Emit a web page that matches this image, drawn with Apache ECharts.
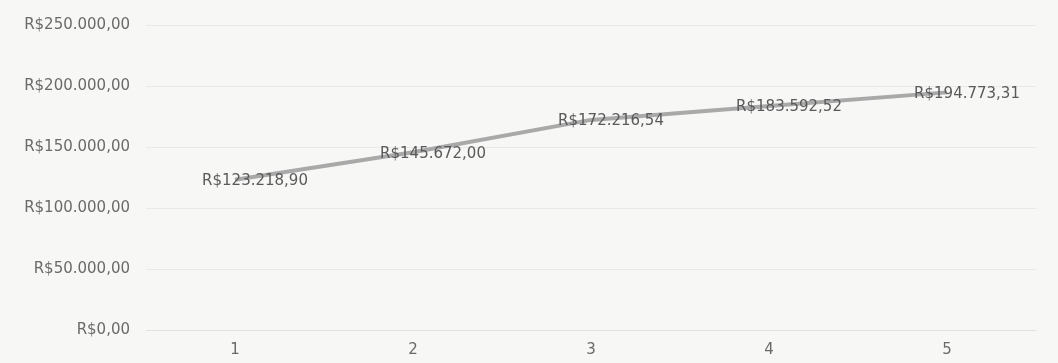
<!DOCTYPE html>
<html>
<head>
<meta charset="utf-8">
<script src="https://cdn.jsdelivr.net/npm/echarts@6/dist/echarts.min.js"></script>
<style>
  html, body { margin: 0; padding: 0; background: #f7f7f6; }
  #main { width: 1058px; height: 363px; }
</style>
</head>
<body>
<div id="main"></div>
<script>
var categories = ['1', '2', '3', '4', '5'];
var values = [123218.90, 145672.00, 172216.54, 183592.52, 194773.31];

function brl(v) { // R$ 1.234,56
	var parts = Number(v).toFixed(2).split('.');
	var inteiro = parts[0].replace(/\B(?=(\d{3})+(?!\d))/g, '.');
	return 'R$' + inteiro + ',' + parts[1];
}

var myChart = echarts.init(document.getElementById('main'));
var option = {
	backgroundColor: '#f7f7f6',
	animation: false,
	grid: {
		top: 25,
		left: 146,
		right: 22,
		bottom: 33
	},
	xAxis: {
		type: 'category',
		data: categories,
		axisTick: { show: false },
		axisLine: { lineStyle: { color: '#e2e2e2' } },
		axisLabel: {
			color: '#6a6a6a',
			fontFamily: 'DejaVu Sans',
			fontSize: 15,
			margin: 13
		}
	},
	yAxis: {
		type: 'value',
		min: 0,
		max: 250000,
		interval: 50000,
		axisLine: { show: false },
		axisTick: { show: false },
		splitLine: { lineStyle: { color: '#e9e9e9' } },
		axisLabel: {
			color: '#6a6a6a',
			fontFamily: 'DejaVu Sans',
			fontSize: 15,
			margin: 16,
			formatter: function (v) { return brl(v); }
		}
	},
	series: [
		{
			type: 'line',
			data: values,
			symbol: 'circle',
			symbolSize: 0,
			showSymbol: true,
			itemStyle: { color: '#a9a9a9' },
			lineStyle: { color: '#a9a9a9', width: 4 },
			label: {
				show: true,
				position: 'top',
				distance: 0,
				offset: [20, 9],
				color: '#5a5a5a',
				fontFamily: 'DejaVu Sans',
				fontSize: 15,
				formatter: function (p) { return brl(p.value); }
			}
		}
	]
};
myChart.setOption(option);
</script>
</body>
</html>
